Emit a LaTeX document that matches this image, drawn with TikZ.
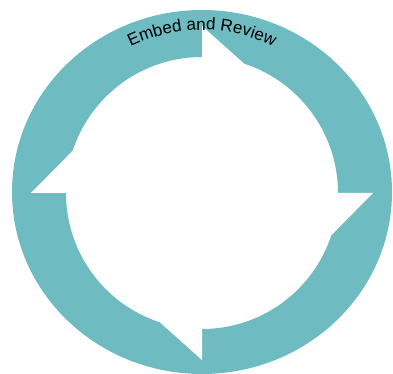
\documentclass[tikz,border=0pt]{standalone}
\usepackage{fontspec}
\setmainfont{Liberation Sans}
\usetikzlibrary{decorations.text}
\definecolor{ringteal}{RGB}{110,188,194}
\begin{document}
\begin{tikzpicture}[x=1pt,y=1pt]
        \useasboundingbox (0,0) rectangle (393,374);
        \fill[ringteal,even odd rule] (202,182) ellipse (190 and 182) (202,181) circle(136);
    \begin{scope}[shift={(202,181)}]
        \foreach \a in {90,0,-90,180}
            \fill[white] (\a:171 and 167) -- (\a:135) -- (\a-19:135) -- cycle;
        \path[decorate,decoration={text along path,text align=center,
            text={|\fontsize{17}{20}\selectfont|Embed and Review}}]
            (118:163) arc[start angle=118,end angle=62,radius=163];
    \end{scope}
\end{tikzpicture}
\end{document}
